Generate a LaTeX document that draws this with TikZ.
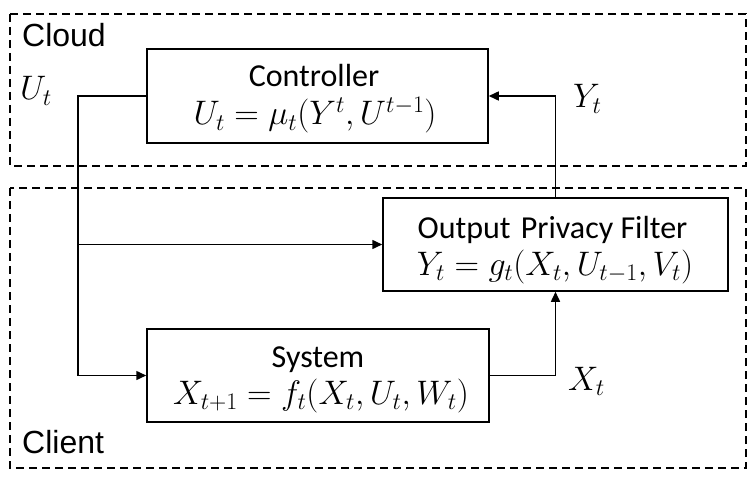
\RequirePackage{fix-cm}
\documentclass[tikz,border=0pt]{standalone}
\usepackage[no-math]{fontspec}
\setmainfont{Carlito}
\newfontfamily\arialfont{Liberation Sans}
\usetikzlibrary{arrows.meta}
\tikzset{
  region/.style={draw, line width=1.3pt, dash pattern=on 8pt off 5pt},
  blk/.style={draw, line width=1.5pt, inner sep=0pt},
  boxname/.style={anchor=base, inner sep=0pt, font=\fontsize{32}{36}\selectfont},
  boxeq/.style={anchor=base, inner sep=0pt, font=\fontsize{34}{40}\selectfont},
  sig/.style={anchor=base west, inner sep=0pt, font=\fontsize{34}{40}\selectfont},
  zone/.style={anchor=base west, inner sep=0pt, font=\arialfont\fontsize{32}{36}\selectfont},
  conn/.style={line width=1.5pt},
  arr/.style={conn, -{Triangle[length=10pt,width=9pt]}}
}
\begin{document}
\begin{tikzpicture}[x=1pt,y=-1pt]
\useasboundingbox (0,0) rectangle (747,481);
% regions
\draw[region] (10,14) rectangle (746,166);
\draw[region] (10,188) rectangle (746,468);
\node[zone] (cloud) at (22,47) {Cloud};
\node[zone] (client) at (22,453) {Client};
% blocks
\node[blk, minimum width=341pt, minimum height=94pt] (ctrl) at (317.5,96) {};
\node[blk, minimum width=345pt, minimum height=93pt] (opf) at (555.5,244.5) {};
\node[blk, minimum width=342pt, minimum height=93pt] (sys) at (318,375.5) {};
\node[boxname] (ctrlname) at (314,87) {Controller};
\node[boxeq] (ctrleq) at (315,125) {$U_t=\mu_t(Y^t,U^{t-1})$};
\node[boxname] (opfname) at (552.5,239) {Output\hspace{3pt} Privacy Filter};
\node[boxeq] (opfeq) at (555,275) {$Y_t=g_t(X_t,U_{t-1},V_t)$};
\node[boxname] (sysname) at (318,367) {System};
\node[boxeq] (syseq) at (321,404) {$X_{t+1}=f_t(X_t,U_t,W_t)$};
% signal labels
\node[sig] (ulab) at (20,100) {$U_t$};
\node[sig] (ylab) at (573,108) {$Y_t$};
\node[sig] (xlab) at (568,390) {$X_t$};
% connectors
\coordinate (ucorner) at (78,96);
\coordinate (ubranch) at (78,244.5);
\draw[arr] (ctrl.west) -- (ucorner) |- (sys.west);
\draw[arr] (ubranch) -- (opf.west);
\draw[arr] (opf.north) |- (ctrl.east);
\draw[arr] (sys.east) -| (opf.south);
\end{tikzpicture}
\end{document}
